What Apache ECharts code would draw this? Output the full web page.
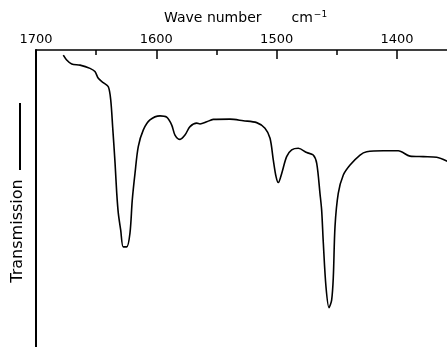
<!DOCTYPE html>
<html>
<head>
<meta charset="utf-8">
<script src="https://cdn.jsdelivr.net/npm/echarts@6/dist/echarts.min.js"></script>
<style>html,body{margin:0;padding:0;background:#fff;}#c{width:447px;height:347px;}</style>
</head>
<body>
<div id="c"></div>
<script>
const wavenumbers = [1677.3,1674.5,1670.3,1663.4,1655.1,1651.0,1648.2,1644.1,1639.9,1637.9,1636.3,1634.3,1632.9,1631.6,1629.6,1627.5,1624.6,1621.9,1620.0,1617.7,1615.0,1610.8,1605.3,1596.9,1591.4,1587.2,1584.5,1580.3,1576.2,1572.0,1566.4,1563.7,1558.1,1552.7,1538.8,1527.7,1516.6,1509.7,1505.5,1502.8,1500.5,1498.6,1495.8,1491.7,1487.5,1482.0,1475.0,1469.6,1466.7,1464.0,1462.6,1461.2,1459.0,1456.5,1454.3,1452.9,1451.5,1448.8,1444.6,1439.0,1430.7,1425.2,1411.4,1398.9,1389.2,1378.1,1367.0,1357.4];
const transmission = [98.1,96.3,94.8,94.4,93.2,92.0,89.5,87.9,86.4,81.5,71.6,58.1,47.0,39.6,33.3,27.1,27.1,32.2,44.4,54.4,64.2,70.4,74.1,75.6,75.1,72.2,68.5,66.9,68.5,71.6,72.9,72.6,73.4,74.3,74.4,73.8,73.1,71.0,67.3,59.3,53.1,50.9,54.3,60.5,63.0,63.6,62.0,61.1,58.0,46.9,40.7,28.4,12.3,4.6,7.4,16.0,34.6,46.9,53.7,57.4,61.1,62.3,62.7,62.7,60.7,60.5,60.3,58.6];
const xTickLabels = ['1700','1600','1500','1400'];
const xTitle = 'Wave number';
const xUnit = 'cm';
const xUnitExp = '−1';
const yTitle = 'Transmission';

const chart = echarts.init(document.getElementById('c'), null, {renderer: 'canvas'});
const data = wavenumbers.map((w, i) => [w, transmission[i]]);
const font = {fontFamily: 'DejaVu Sans', fontWeight: 'normal', color: '#000'};
chart.setOption({
  animation: false,
  backgroundColor: '#fff',
  title: {
    text: '{a|' + xTitle + '}{b|' + xUnit + '}{c|' + xUnitExp + '}',
    left: 159, top: 5,
    textStyle: {
      fontWeight: 'normal',
      rich: {
        a: Object.assign({fontSize: 14}, font),
        b: Object.assign({fontSize: 14, padding: [0, 0, 0, 30]}, font),
        c: Object.assign({fontSize: 9, verticalAlign: 'top', padding: [0, 0, 8, 1]}, font)
      }
    }
  },
  grid: {left: 36, top: 50, right: -70.3, bottom: 0, containLabel: false, outerBoundsMode: 'none'},
  xAxis: {
    type: 'value', position: 'top', inverse: true,
    min: 1300, max: 1700, interval: 100,
    axisLine: {show: true, onZero: false, lineStyle: {color: '#000', width: 1.5}},
    axisTick: {show: true, inside: true, length: 9, lineStyle: {color: '#000', width: 1.5}},
    minorTick: {show: true, splitNumber: 2, length: 5, lineStyle: {color: '#000', width: 1.5}},
    splitLine: {show: false},
    axisLabel: {
      show: true, margin: 4, color: '#000', fontFamily: 'DejaVu Sans', fontSize: 13,
      showMinLabel: true, showMaxLabel: true,
      formatter: v => xTickLabels.includes(String(v)) ? String(v) : ''
    }
  },
  yAxis: {
    type: 'value', min: -10, max: 100,
    axisLine: {show: true, onZero: false, lineStyle: {color: '#000', width: 2}},
    axisTick: {show: false}, axisLabel: {show: false}, splitLine: {show: false}
  },
  graphic: [
    {type: 'text', x: 18, y: 231, rotation: Math.PI / 2,
     style: {text: yTitle, fontFamily: 'DejaVu Sans', fontSize: 16, fill: '#000', align: 'center', verticalAlign: 'middle'}},
    {type: 'line', shape: {x1: 20, y1: 103, x2: 20, y2: 170}, style: {stroke: '#000', lineWidth: 2}}
  ],
  series: [{
    type: 'line', data: data, smooth: 0.3, showSymbol: false,
    lineStyle: {color: '#000', width: 1.6}
  }]
});
</script>
</body>
</html>
